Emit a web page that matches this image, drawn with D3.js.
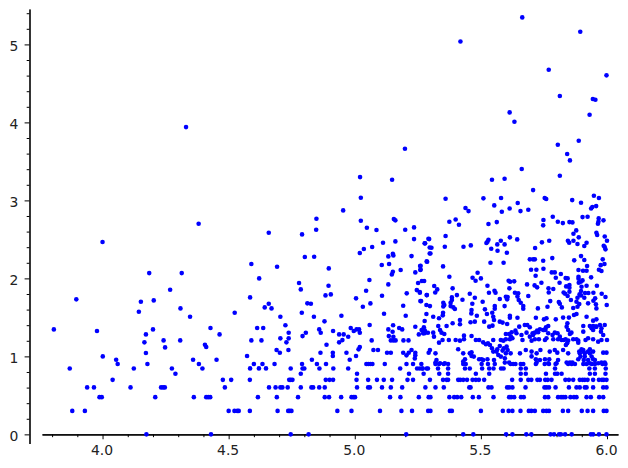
<!DOCTYPE html>
<html><head><meta charset="utf-8">
<script src="https://cdnjs.cloudflare.com/ajax/libs/d3/7.8.5/d3.min.js"></script>
<style>html,body{margin:0;padding:0;background:#fff}svg{display:block}</style>
</head><body><svg id="c" width="628" height="468"></svg>
<script>
const xMajorTicks=[4,4.5,5,5.5,6];
const yMajorTicks=[0,1,2,3,4,5];
const xMinorTicks=[3.8,3.9,4.1,4.2,4.3,4.4,4.6,4.7,4.8,4.9,5.1,5.2,5.3,5.4,5.6,5.7,5.8,5.9];
const yMinorTicks=[0.2,0.4,0.6,0.8,1.2,1.4,1.6,1.8,2.2,2.4,2.6,2.8,3.2,3.4,3.6,3.8,4.2,4.4,4.6,4.8,5.2,5.4];
const rowLevels=[0,0.301,0.477,0.602,0.699,0.778,0.845,0.903];
const rowX=[
[4.174,4.43,4.746,4.817,5.204,5.43,5.47,5.60,5.625,5.68,5.70,5.776,5.79,5.81,5.817,5.834,5.86,5.936,5.945,5.968,5.998],
[3.88,3.93,4.50,4.523,4.534,4.54,4.584,4.694,4.736,4.742,4.749,4.931,4.987,5.10,5.185,5.227,5.291,5.30,5.377,5.385,5.50,5.587,5.61,5.625,5.657,5.69,5.70,5.714,5.747,5.76,5.77,5.825,5.846,5.90,5.923,5.945,5.987,5.998],
[3.988,3.997,4.209,4.362,4.411,4.419,4.427,4.616,4.691,4.775,4.881,4.898,4.946,4.987,4.995,5.001,5.14,5.181,5.254,5.293,5.30,5.375,5.394,5.406,5.422,5.468,5.492,5.55,5.612,5.62,5.632,5.659,5.67,5.754,5.767,5.806,5.818,5.826,5.835,5.855,5.869,5.879,5.919,5.936,5.969,5.985],
[3.939,3.966,4.111,4.232,4.24,4.247,4.485,4.66,4.686,4.705,4.713,4.734,4.786,4.828,4.835,4.859,4.881,5.009,5.053,5.06,5.108,5.143,5.188,5.28,5.32,5.353,5.454,5.459,5.53,5.542,5.604,5.612,5.625,5.677,5.752,5.76,5.77,5.796,5.849,5.879,5.892,5.912,5.919,5.945,5.985,5.998],
[4.04,4.477,4.51,4.584,4.74,4.746,4.753,4.885,4.90,4.914,5.007,5.053,5.088,5.115,5.148,5.209,5.231,5.298,5.35,5.364,5.37,5.41,5.418,5.43,5.445,5.467,5.48,5.492,5.513,5.624,5.658,5.688,5.70,5.724,5.734,5.755,5.765,5.78,5.835,5.849,5.866,5.892,5.903,5.912,5.923,5.945,5.968,5.98,5.987,5.998],
[4.289,4.786,5.009,5.215,5.273,5.335,5.37,5.48,5.533,5.658,5.678,5.758,5.794,5.803,5.82,5.932,5.952,5.994],
[3.87,4.124,4.275,4.396,4.746,4.793,4.80,4.86,4.915,4.974,5.18,5.247,5.258,5.268,5.29,5.269,5.285,5.33,5.37,5.437,5.456,5.505,5.533,5.55,5.58,5.59,5.658,5.678,5.794,5.93,5.952,5.995],
[4.06,4.178,4.382,4.60,4.634,4.682,4.791,4.85,4.886,5.046,5.054,5.062,5.07,5.119,5.205,5.231,5.264,5.32,5.334,5.353,5.37,5.43,5.44,5.503,5.528,5.555,5.618,5.628,5.637,5.658,5.668,5.718,5.753,5.77,5.796,5.846,5.86,5.873,5.906,5.919,5.94,5.952,5.982,5.994]
];
const scatterPairs=[
[4.331,3.94],[4.381,2.70],[4.0,2.466],[4.185,2.068],[4.314,2.068],[4.268,1.855],[3.896,1.731],[4.152,1.70],[4.203,1.718],[4.144,1.573],[4.309,1.615],[4.347,1.509],[4.524,1.56],[3.807,1.346],[3.978,1.325],[4.20,1.346],[4.428,1.363],[4.172,1.282],[4.464,1.282],[4.166,1.18],[4.242,1.205],[4.308,1.205],[4.406,1.15],[4.411,1.12],[4.248,1.115],[4.172,1.043],[4.001,1.0],[4.359,0.957],[4.452,0.957],[4.054,0.957],
[4.643,1.628],[4.659,1.675],[4.67,1.615],[4.705,1.509],[4.725,1.40],[4.738,1.303],[4.738,1.231],[4.729,1.18],[4.705,1.231],[4.613,1.363],[4.637,1.363],[4.59,1.205],[4.63,1.205],[4.573,1.004],[4.585,0.846],[4.62,0.846],[4.648,0.846],[4.69,1.081],[4.703,1.047],[4.737,1.081],
[4.79,1.56],[4.812,1.68],[4.826,1.675],[4.838,1.509],[4.88,1.449],[4.806,1.303],[4.793,1.26],[4.859,1.346],[4.865,1.303],[4.914,1.325],[4.888,1.15],[4.864,1.047],[4.83,0.957],[4.913,1.047],[4.913,1.004],
[5.032,1.637],[5.062,1.679],[4.947,1.521],[4.938,1.282],[4.956,1.282],[4.974,1.252],[4.951,1.209],[4.938,1.18],[4.984,1.363],[4.996,1.325],[5.007,1.346],[5.017,1.346],[5.02,1.303],[5.059,1.402],[5.067,1.205],[4.967,1.047],[4.98,0.957],[5.005,1.004],[5.015,1.09],[5.02,1.12],[5.074,1.081],[5.092,1.081],[5.128,1.047],[5.143,1.047],
[5.116,1.547],[5.192,1.65],[5.202,1.521],[5.24,1.38],[5.152,1.40],[5.133,1.346],[5.15,1.316],[5.176,1.363],[5.188,1.346],[5.135,1.26],[5.153,1.252],[5.143,1.205],[5.153,1.205],[5.162,1.205],[5.193,1.205],[5.213,1.205],[5.254,1.282],[5.273,1.338],[5.274,1.372],[5.29,1.303],[5.271,1.295],[5.192,1.047],[5.214,1.047],[5.225,1.081],[5.205,1.013],[5.24,1.047],[5.24,1.013],[5.238,0.974],[5.293,1.047],
[5.26,1.709],[5.284,1.658],[5.284,1.543],
[5.199,3.662],[5.021,3.299],[5.148,3.265],[5.024,3.034],[4.954,2.872],[4.848,2.765],[5.024,2.739],[5.155,2.76],[5.161,2.744],[4.847,2.624],[5.048,2.65],[5.086,2.62],[5.20,2.624],[5.235,2.654],[4.659,2.585],[4.791,2.564],[5.235,2.504],[5.292,2.509],[5.161,2.474],[5.112,2.457],[5.277,2.449],[5.069,2.402],[5.036,2.376],[5.02,2.325],[5.151,2.316],[5.133,2.282],[5.153,2.295],[5.225,2.286],[4.802,2.274],[4.839,2.278],[4.59,2.184],[4.692,2.15],[4.897,2.128],[5.107,2.171],[5.136,2.184],[5.285,2.218],[5.182,2.107],[5.259,2.158],[5.26,2.107],[5.151,2.085],[5.147,2.051],[5.24,2.077],[4.621,2.0],[5.058,1.979],[5.275,1.966],[5.251,1.94],[4.779,1.94],[5.133,1.923],[4.896,1.906],[4.786,1.859],[5.045,1.842],[5.246,1.85],[5.258,1.816],[5.206,1.808],[5.285,1.786],[4.884,1.782],[4.905,1.795],[5.108,1.778],[4.585,1.756],[5.005,1.744],[5.297,2.32],[5.297,2.397],
[5.664,5.346],[5.894,5.162],[5.419,5.038],[5.769,4.675],[5.998,4.603],[5.813,4.338],[5.944,4.30],[5.954,4.291],[5.931,4.098],[5.614,4.128],[5.633,4.009],[5.888,3.765],[5.805,3.714],[5.842,3.594],[5.853,3.513],[5.662,3.402],
[5.813,3.316],[5.544,3.265],[5.594,3.278],[5.707,3.132],[5.36,3.021],[5.51,3.026],[5.58,3.03],[5.753,3.03],[5.759,3.017],[5.862,3.004],[5.897,2.97],[5.948,3.06],[5.968,3.03],[5.439,2.902],[5.451,2.863],[5.553,2.936],[5.646,2.966],[5.614,2.897],[5.583,2.855],[5.657,2.863],[5.688,2.88],[5.937,2.897],[5.942,2.915],[5.957,2.927],
[5.375,2.726],[5.40,2.756],[5.413,2.688],[5.53,2.697],[5.563,2.722],[5.748,2.748],[5.747,2.68],[5.785,2.79],[5.805,2.726],[5.825,2.709],[5.851,2.722],[5.863,2.718],[5.903,2.786],[5.923,2.79],[5.967,2.769],[5.966,2.726],[5.964,2.70],[5.986,2.744],
[5.36,2.543],[5.295,2.504],[5.279,2.449],[5.304,2.393],[5.357,2.406],[5.30,2.32],[5.287,2.214],[5.431,2.406],[5.46,2.423],[5.53,2.496],[5.526,2.47],[5.522,2.453],[5.579,2.483],[5.565,2.436],[5.594,2.436],[5.615,2.526],[5.644,2.5],[5.541,2.38],[5.566,2.355],[5.603,2.329],[5.538,2.20],[5.59,2.20],[5.35,2.154],[5.261,2.162],[5.261,2.115],
[5.742,2.462],[5.771,2.483],[5.715,2.389],[5.867,2.573],[5.878,2.615],[5.888,2.526],[5.845,2.483],[5.85,2.457],[5.867,2.483],[5.883,2.44],[5.919,2.457],[5.91,2.415],[5.958,2.585],[5.961,2.556],[5.991,2.538],[6.0,2.483],[5.987,2.419],[5.991,2.402],[5.994,2.372],
[5.694,2.244],[5.707,2.244],[5.714,2.244],[5.747,2.226],[5.783,2.26],[5.87,2.231],[5.897,2.286],[5.91,2.235],[5.983,2.244],[5.99,2.184],[5.975,2.17],[5.921,2.158],
[5.699,2.111],[5.72,2.111],[5.748,2.124],[5.968,2.111],[5.978,2.094],[5.781,2.077],[5.793,2.077],[5.817,2.056],[5.887,2.107],[5.905,2.098],[5.919,2.098],[5.717,2.034],[5.797,2.009],[5.836,2.004],[5.844,2.0],[5.887,2.021],[5.887,1.996],[5.937,2.013],[5.903,1.974],[5.896,1.957],[5.888,1.944],[5.812,1.944],
[5.375,2.021],[5.487,2.073],[5.467,2.009],[5.479,1.97],[5.5,2.0],[5.266,1.966],[5.61,1.97],[5.616,1.957],[5.632,1.962],[5.74,1.944],[5.683,1.923],[5.713,1.91],[5.723,1.885],[5.526,1.906],[5.613,1.872],[5.388,1.872],[5.315,1.902],[5.327,1.859],[5.319,1.82],[5.286,1.786],[5.258,1.825],[5.263,1.709],
[5.768,1.872],[5.787,1.863],[5.769,1.82],[5.838,1.897],[5.851,1.915],[5.851,1.88],[5.899,1.893],[5.919,1.906],[5.96,1.906],[5.897,1.838],[5.913,1.812],[5.926,1.812],[5.946,1.816],[5.979,1.803],[5.994,1.761],[5.828,1.82],[5.834,1.803],[5.844,1.774],[5.851,1.829],[5.891,1.795],[5.883,1.752],[5.897,1.782],[5.91,1.752],
[5.532,1.816],[5.554,1.842],[5.558,1.816],[5.456,1.803],[5.405,1.786],[5.385,1.756],[5.385,1.722],[5.427,1.726],[5.476,1.752],[5.575,1.735],[5.599,1.765],[5.606,1.761],[5.635,1.816],[5.648,1.808],[5.645,1.769],[5.65,1.722],[5.688,1.774],[5.507,1.701],[5.466,1.675],[5.604,1.731],
[5.775,1.709],[5.764,1.637],[5.809,1.697],[5.813,1.675],[5.857,1.722],[5.879,1.701],[5.89,1.671],[5.883,1.637],[5.866,1.62],[5.925,1.68],[5.946,1.714],[5.953,1.744],[5.956,1.667],[5.958,1.615],[5.999,1.658],[5.726,1.615],[5.821,1.628],
[5.351,1.688],[5.355,1.658],[5.351,1.641],[5.38,1.688],[5.38,1.645],[5.391,1.628],[5.397,1.607],[5.298,1.645],[5.594,1.645],[5.658,1.688],[5.668,1.645],[5.668,1.611],[5.555,1.645],[5.516,1.603],[5.463,1.594],[5.555,1.611],[5.462,1.551],[5.524,1.543],[5.545,1.56],[5.484,1.521],[5.549,1.509],[5.35,1.56],[5.349,1.526],
[5.615,1.521],[5.615,1.496],[5.645,1.496],[5.718,1.496],
[5.311,1.509],[5.334,1.488],[5.277,1.454],[5.265,1.339],[5.278,1.33],[5.277,1.296],[5.311,1.304],[5.314,1.253],[5.331,1.39],[5.338,1.339],[5.344,1.304],[5.355,1.287],[5.364,1.39],[5.388,1.424],[5.417,1.467],[5.417,1.412],[5.459,1.437],[5.476,1.445],[5.513,1.445],[5.533,1.381],[5.552,1.467],[5.546,1.394],[5.575,1.445],[5.586,1.433],[5.604,1.415],
[5.334,1.176],[5.348,1.21],[5.373,1.21],[5.4,1.21],[5.417,1.202],[5.433,1.219],[5.433,1.266],[5.463,1.262],[5.48,1.21],[5.493,1.21],[5.509,1.18],[5.52,1.155],[5.528,1.168],[5.536,1.146],[5.544,1.104],[5.549,1.061],[5.549,1.21],[5.579,1.21],[5.589,1.202],[5.599,1.219],[5.615,1.219],[5.625,1.232],[5.575,1.133],
[5.599,1.287],[5.612,1.287],[5.622,1.309],[5.637,1.33],[5.641,1.296],[5.619,1.253],[5.661,1.274],[5.665,1.21],[5.652,1.381],[5.674,1.403],[5.684,1.403],[5.694,1.373],[5.681,1.304],[5.705,1.296],[5.714,1.304],[5.723,1.33],[5.734,1.347],[5.75,1.339],[5.758,1.373],[5.767,1.39],[5.76,1.488],[5.75,1.475],[5.797,1.475],[5.826,1.497],[5.849,1.497],[5.869,1.531],[5.879,1.544],
[5.565,1.091],[5.562,1.061],[5.569,1.018],[5.579,0.997],[5.586,1.074],[5.591,1.104],[5.602,1.125],[5.606,1.082],[5.599,1.039],[5.618,1.039],[5.595,0.975],[5.655,1.039],[5.678,1.082],[5.701,1.061],[5.721,1.039],[5.701,1.0],[5.718,0.963],[5.736,1.082],[5.721,0.92],[5.734,0.954],[5.754,0.963],[5.771,0.963],[5.767,0.911],[5.773,1.061],[5.803,1.048],[5.826,1.082],[5.846,1.039],[5.793,1.082],[5.806,0.954],[5.8,0.911],
[5.701,1.202],[5.714,1.219],[5.73,1.219],[5.754,1.21],[5.76,1.232],[5.787,1.219],[5.806,1.219],[5.82,1.21],[5.836,1.219],[5.846,1.202],[5.866,1.219],[5.886,1.202],[5.915,1.21],[5.925,1.232],[5.945,1.219],[5.965,1.189],[5.978,1.21],[5.985,1.274],[6.0,1.21],[5.976,1.317],[5.958,1.381],[5.945,1.39],[5.919,1.509],
[5.804,1.296],[5.793,1.304],[5.784,1.274],[5.767,1.296],[5.756,1.339],[5.707,1.274],[5.694,1.253],[5.727,1.309],[5.747,1.339],
[5.843,1.424],[5.84,1.381],[5.846,1.339],[5.853,1.287],[5.859,1.304],[5.813,1.253],[5.829,1.21],[5.842,1.168],[5.837,1.146],[5.879,1.219],[5.886,1.176],[5.906,1.39],[5.932,1.39],[5.939,1.36],[5.945,1.339],[5.906,1.317],[5.945,1.458],[5.956,1.381],[5.991,1.403],[5.978,1.36],[5.972,1.403],[5.958,1.475],
[5.899,1.091],[5.89,1.061],[5.892,1.039],[5.895,0.997],[5.906,1.061],[5.912,1.039],[5.906,1.082],[5.912,0.997],[5.925,1.061],[5.932,1.039],[5.939,0.997],[5.945,0.963],[5.952,0.954],[5.925,0.954],[5.908,0.954],[5.886,0.963],[5.985,1.048],[5.998,1.048],[5.945,1.061],[5.932,1.091],[5.991,0.92],[5.978,0.92],[5.965,0.911],[5.932,0.911],[5.84,0.92],[5.853,0.92],[5.863,0.92],
[5.41,1.091],[5.43,1.039],[5.43,0.933],[5.437,0.963],[5.456,1.039],[5.463,1.052],[5.463,1.005],[5.472,0.997],[5.493,0.963],[5.503,0.963],[5.509,0.954],[5.526,0.963],[5.552,0.954],[5.298,1.082],[5.32,1.039],[5.324,0.954],[5.32,0.92],[5.338,0.911],[5.357,0.911],[5.595,0.92],[5.612,0.92]
];
const points=scatterPairs.map(p=>({x:p[0],y:p[1]}));
rowLevels.forEach((lv,i)=>rowX[i].forEach(v=>points.push({x:v,y:lv})));

const svg=d3.select("#c");
const x=d3.scaleLinear().domain([3.76,6.0436]).range([42,618]);
const y=d3.scaleLinear().domain([-0.117,5.454]).range([443.5,9]);
const fontFam="'DejaVu Sans',sans-serif";
function style(g){
  g.selectAll("line").attr("stroke","#000").attr("stroke-width",1);
  g.selectAll("path").attr("stroke","#000").attr("stroke-width",1.1);
  g.selectAll("text").attr("fill","#222").attr("font-family",fontFam).attr("font-size",13.9);
}
const xAxis=svg.append("g").attr("transform",`translate(0,${y(0)})`);
xAxis.append("g").call(d3.axisBottom(x).tickValues(xMinorTicks).tickSize(2.8).tickSizeOuter(0).tickFormat("")).call(style);
xAxis.append("g").call(d3.axisBottom(x).tickValues(xMajorTicks).tickSize(4.9).tickSizeOuter(0).tickPadding(6.3).tickFormat(d3.format(".1f"))).call(style).selectAll("text").attr("dx",-1);
const yAxis=svg.append("g").attr("transform",`translate(29.5,0)`);
yAxis.append("g").call(d3.axisLeft(y).tickValues(yMinorTicks).tickSize(2.8).tickSizeOuter(0).tickFormat("")).call(style);
yAxis.append("g").call(d3.axisLeft(y).tickValues(yMajorTicks).tickSize(4.9).tickSizeOuter(0).tickPadding(6.3).tickFormat(d3.format("d"))).call(style).selectAll("text").attr("dy","0.44em");
svg.append("g").selectAll("circle").data(points).join("circle")
  .attr("cx",d=>x(d.x)).attr("cy",d=>y(d.y)).attr("r",2.3).attr("fill","#0000ff");
</script></body></html>
